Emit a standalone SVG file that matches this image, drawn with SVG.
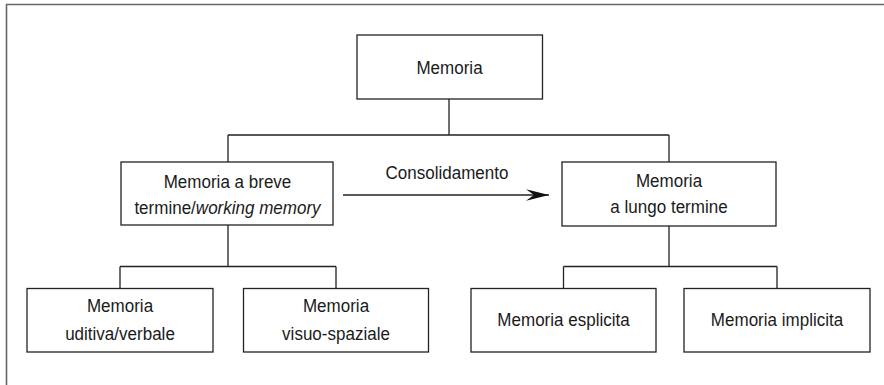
<svg xmlns="http://www.w3.org/2000/svg" width="884" height="385" viewBox="0 0 884 385">
<style>
.box{fill:#fff;stroke:#222;stroke-width:1.3}
.con{fill:none;stroke:#222;stroke-width:1.3}
.frame{fill:none;stroke:#666;stroke-width:1.6}
text{font-family:"Liberation Sans",Arial,sans-serif;font-size:18.5px;fill:#1a1a1a;text-anchor:middle}
.it{font-style:italic}
</style>
<defs>
<marker id="arr" markerUnits="userSpaceOnUse" markerWidth="26" markerHeight="14" refX="23" refY="6" orient="auto">
<path d="M0,0.3 L23,6 L0,11.7 L8,6 Z" fill="#111"/>
</marker>
</defs>
<rect width="884" height="385" fill="#fff"/>
<path class="frame" d="M6.5,385 V4.5 H884"/>
<g id="connectors">
<path class="con" d="M449,99 V135 M228,135 H669 M228,135 V162 M669,135 V162"/>
<path class="con" d="M228,225 V266.5 M120,266.5 H336 M120,266.5 V288 M336,266.5 V288"/>
<path class="con" d="M669,226 V266.5 M563.5,266.5 H777 M563.5,266.5 V288 M777,266.5 V288"/>
<path class="con" d="M343,195 H549" marker-end="url(#arr)"/>
<text transform="translate(447,179) scale(0.92,1)">Consolidamento</text>
</g>
<g id="memoria">
<rect class="box" x="357" y="35" width="185.5" height="64"/>
<text transform="translate(449.5,73.5) scale(0.92,1)">Memoria</text>
</g>
<g id="breve">
<rect class="box" x="121" y="162" width="212" height="63"/>
<text transform="translate(227.5,187.5) scale(0.92,1)">Memoria a breve</text>
<text transform="translate(227.5,213.5) scale(0.92,1)">termine/<tspan class="it">working memory</tspan></text>
</g>
<g id="lungo">
<rect class="box" x="562" y="162" width="214" height="64"/>
<text transform="translate(669,186.5) scale(0.92,1)">Memoria</text>
<text transform="translate(669,213) scale(0.92,1)">a lungo termine</text>
</g>
<g id="uditiva">
<rect class="box" x="27" y="288.5" width="186" height="63.5"/>
<text transform="translate(120,312) scale(0.92,1)">Memoria</text>
<text transform="translate(120,339.5) scale(0.92,1)">uditiva/verbale</text>
</g>
<g id="visuo">
<rect class="box" x="243.5" y="288.5" width="185" height="63.5"/>
<text transform="translate(336,312) scale(0.92,1)">Memoria</text>
<text transform="translate(336,339.5) scale(0.92,1)">visuo-spaziale</text>
</g>
<g id="esplicita">
<rect class="box" x="471" y="288.5" width="185" height="63.5"/>
<text transform="translate(563.5,326) scale(0.92,1)">Memoria esplicita</text>
</g>
<g id="implicita">
<rect class="box" x="684" y="288.5" width="186" height="63.5"/>
<text transform="translate(777,326) scale(0.92,1)">Memoria implicita</text>
</g>
</svg>
